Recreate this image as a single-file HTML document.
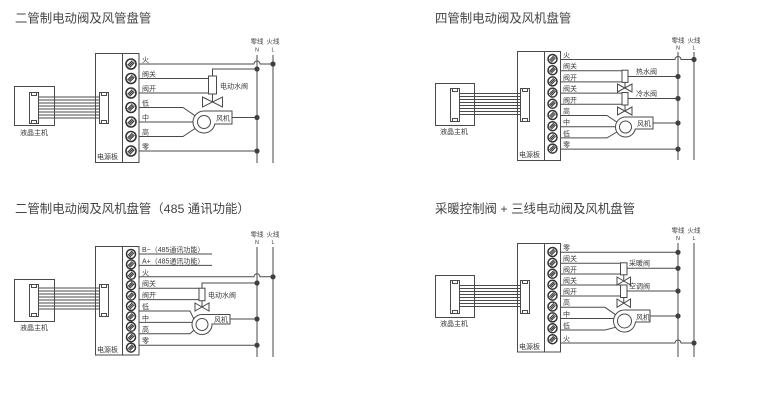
<!DOCTYPE html>
<html>
<head>
<meta charset="utf-8">
<style>
html,body{margin:0;padding:0;background:#fff;}
svg{display:block;}
.w{stroke:#4a4a4a;stroke-width:1;fill:none;}
.t{font-family:"Liberation Sans","Noto Sans CJK SC",sans-serif;fill:#3a3a3a;}
.title{font-family:"Liberation Sans","Noto Sans CJK SC",sans-serif;fill:#444;font-size:12.4px;}
.s7{font-size:7px;}
.s6{font-size:6.5px;}
.s5{font-size:5.5px;}
</style>
</head>
<body>
<svg width="771" height="408" viewBox="0 0 771 408" xmlns="http://www.w3.org/2000/svg">
<defs>
<g id="scr"><circle r="4.5" fill="#fff" stroke="#333" stroke-width="1.5"/><path d="M-3.1 1.2 L1.2 -3.1 M-2.2 2.2 L2.2 -2.2 M-1.2 3.1 L3.1 -1.2" stroke="#333" stroke-width="1"/></g>
<g id="scrb"><circle r="5" fill="#fff" stroke="#333" stroke-width="1.6"/><path d="M-3.4 1.3 L1.3 -3.4 M-2.4 2.4 L2.4 -2.4 M-1.3 3.4 L3.4 -1.3" stroke="#333" stroke-width="1.1"/></g>
<circle id="dot" r="2.6" fill="#404040"/>
</defs>

<!-- ============ Diagram 1 ============ -->
<text class="title" x="15" y="22.5">二管制电动阀及风管盘管</text>
<text class="t s6" x="257" y="43.5" text-anchor="middle">零线</text>
<text class="t s6" x="273" y="43.5" text-anchor="middle">火线</text>
<text class="t s5" x="257" y="51.5" text-anchor="middle">N</text>
<text class="t s5" x="273" y="51.5" text-anchor="middle">L</text>
<path class="w" d="M257 55 V163 M273 55 V163"/>
<rect class="w" x="14.5" y="86.5" width="40" height="39"/>
<rect class="w" x="29.5" y="92.5" width="9" height="31"/>
<rect class="w" x="31.5" y="92.5" width="5" height="3"/>
<rect class="w" x="31.5" y="120.5" width="5" height="3"/>
<path class="w" stroke-width="0.8" d="M38.5 97 H99.5 M38.5 100 H99.5 M38.5 103 H99.5 M38.5 106 H99.5 M38.5 109 H99.5 M38.5 112 H99.5 M38.5 115 H99.5 M38.5 118 H99.5"/>
<text class="t s7" x="20" y="135">液晶主机</text>
<rect class="w" x="95.5" y="53.5" width="43.5" height="109"/>
<path class="w" d="M122.5 53.5 V162.5"/>
<rect class="w" x="99.5" y="92.5" width="9" height="31"/>
<rect class="w" x="101.5" y="92.5" width="5" height="3"/>
<rect class="w" x="101.5" y="120.5" width="5" height="3"/>
<text class="t s7" x="97" y="159">电源板</text>
<use href="#scrb" x="131" y="64"/>
<use href="#scrb" x="131" y="78.5"/>
<use href="#scrb" x="131" y="93"/>
<use href="#scrb" x="131" y="107.5"/>
<use href="#scrb" x="131" y="122"/>
<use href="#scrb" x="131" y="136.5"/>
<use href="#scrb" x="131" y="151"/>
<text class="t s7" x="142" y="62">火</text>
<text class="t s7" x="142" y="76.5">阀关</text>
<text class="t s7" x="142" y="91">阀开</text>
<text class="t s7" x="142" y="105.5">低</text>
<text class="t s7" x="142" y="120">中</text>
<text class="t s7" x="142" y="134.5">高</text>
<text class="t s7" x="142" y="149">零</text>
<path class="w" d="M139 64 H254 A3 3 0 0 1 260 64 H273"/>
<use href="#dot" x="273" y="64"/>
<path class="w" d="M257 69 H212.5 V76"/>
<use href="#dot" x="257" y="69"/>
<rect class="w" x="208.5" y="76" width="8" height="18"/>
<path class="w" d="M139 78.5 H208.5 M139 93 H208.5 M212.5 94 V102"/>
<path class="w" d="M202.5 97 L222.5 107 V97 L202.5 107 Z"/>
<text class="t s7" x="220" y="88.5">电动水阀</text>
<path class="w" d="M139 107.5 H183 L195 115.7 M139 122 H193 M139 136.5 H183 L195 128.5"/>
<path class="w" d="M204 111 H232 V124 H214.8 A11 11 0 1 1 204 111 Z"/>
<circle class="w" cx="204" cy="122" r="6.5"/>
<text class="t s7" x="216" y="120.5">风机</text>
<path class="w" d="M232 117.5 H257"/>
<use href="#dot" x="257" y="117.5"/>
<path class="w" d="M139 151 H257"/>
<use href="#dot" x="257" y="151"/>

<!-- ============ Diagram 2 ============ -->
<text class="title" x="435" y="22.5">四管制电动阀及风机盘管</text>
<text class="t s6" x="678" y="42.5" text-anchor="middle">零线</text>
<text class="t s6" x="694" y="42.5" text-anchor="middle">火线</text>
<text class="t s5" x="678" y="49.5" text-anchor="middle">N</text>
<text class="t s5" x="694" y="49.5" text-anchor="middle">L</text>
<path class="w" d="M678 52 V160 M694 52 V160"/>
<rect class="w" x="435.5" y="83.5" width="39" height="42"/>
<rect class="w" x="450.5" y="88.5" width="9" height="33"/>
<rect class="w" x="452.5" y="88.5" width="5" height="3"/>
<rect class="w" x="452.5" y="118.5" width="5" height="3"/>
<path class="w" stroke-width="0.8" d="M459.5 93.5 H520.5 M459.5 96.5 H520.5 M459.5 99.5 H520.5 M459.5 102.5 H520.5 M459.5 105.5 H520.5 M459.5 108.5 H520.5 M459.5 111.5 H520.5 M459.5 114.5 H520.5"/>
<text class="t s7" x="440" y="134">液晶主机</text>
<rect class="w" x="517.5" y="51.5" width="43" height="109"/>
<path class="w" d="M544.5 51.5 V160.5"/>
<rect class="w" x="520.5" y="88.5" width="9" height="33"/>
<rect class="w" x="522.5" y="88.5" width="5" height="3"/>
<rect class="w" x="522.5" y="118.5" width="5" height="3"/>
<text class="t s7" x="519" y="157">电源板</text>
<use href="#scr" x="552.5" y="59"/>
<use href="#scr" x="552.5" y="70.2"/>
<use href="#scr" x="552.5" y="81.4"/>
<use href="#scr" x="552.5" y="92.6"/>
<use href="#scr" x="552.5" y="103.8"/>
<use href="#scr" x="552.5" y="115"/>
<use href="#scr" x="552.5" y="126.2"/>
<use href="#scr" x="552.5" y="137.4"/>
<use href="#scr" x="552.5" y="148.6"/>
<text class="t s7" x="563" y="57.5">火</text>
<text class="t s7" x="563" y="68.7">阀关</text>
<text class="t s7" x="563" y="79.9">阀开</text>
<text class="t s7" x="563" y="91.1">阀关</text>
<text class="t s7" x="563" y="102.3">阀开</text>
<text class="t s7" x="563" y="113.5">高</text>
<text class="t s7" x="563" y="124.7">中</text>
<text class="t s7" x="563" y="135.9">低</text>
<text class="t s7" x="563" y="147.1">零</text>
<path class="w" d="M560.5 59.5 H675 A3 3 0 0 1 681 59.5 H694"/>
<use href="#dot" x="694" y="59.5"/>
<path class="w" d="M560.5 70.7 H622 M560.5 81.9 H622"/>
<rect class="w" x="622" y="70.2" width="6" height="12.2"/>
<path class="w" d="M628 76.5 H678"/>
<use href="#dot" x="678" y="76.5"/>
<text class="t s7" x="636" y="74">热水阀</text>
<path class="w" d="M625 82.4 V88"/>
<path class="w" d="M617.5 84 L632 92 V84 L617.5 92 Z"/>
<path class="w" d="M560.5 93.1 H622 M560.5 104.3 H622"/>
<rect class="w" x="622" y="92.5" width="6" height="12.5"/>
<path class="w" d="M628 98.5 H678"/>
<use href="#dot" x="678" y="98.5"/>
<text class="t s7" x="636" y="96">冷水阀</text>
<path class="w" d="M625 105 V111"/>
<path class="w" d="M617.5 107 L632 115 V107 L617.5 115 Z"/>
<path class="w" d="M560.5 115.5 H607 L616.8 122 M560.5 126.7 H615.5 M560.5 137.9 H607 L616.8 132"/>
<path class="w" d="M625.5 117 H653 V129 H635.3 A10 10 0 1 1 625.5 117 Z"/>
<circle class="w" cx="625.5" cy="127" r="6"/>
<text class="t s7" x="637" y="126">风机</text>
<path class="w" d="M653 123 H678"/>
<use href="#dot" x="678" y="123"/>
<path class="w" d="M560.5 149.1 H678"/>
<use href="#dot" x="678" y="149.1"/>

<!-- ============ Diagram 3 ============ -->
<text class="title" x="15" y="213">二管制电动阀及风机盘管（485 通讯功能）</text>
<text class="t s6" x="257" y="236.5" text-anchor="middle">零线</text>
<text class="t s6" x="273" y="236.5" text-anchor="middle">火线</text>
<text class="t s5" x="257" y="244" text-anchor="middle">N</text>
<text class="t s5" x="273" y="244" text-anchor="middle">L</text>
<path class="w" d="M257 247 V357 M273 247 V357"/>
<rect class="w" x="14.5" y="279.5" width="40" height="42"/>
<rect class="w" x="29.5" y="284.5" width="9" height="32"/>
<rect class="w" x="31.5" y="284.5" width="5" height="3"/>
<rect class="w" x="31.5" y="313.5" width="5" height="3"/>
<path class="w" stroke-width="0.8" d="M38.5 288 H99.5 M38.5 291 H99.5 M38.5 294 H99.5 M38.5 297 H99.5 M38.5 300 H99.5 M38.5 303 H99.5 M38.5 306 H99.5 M38.5 309 H99.5"/>
<text class="t s7" x="20" y="330">液晶主机</text>
<rect class="w" x="95.5" y="246.5" width="43.5" height="108.5"/>
<path class="w" d="M122.5 246.5 V355"/>
<rect class="w" x="99.5" y="284.5" width="9" height="32"/>
<rect class="w" x="101.5" y="284.5" width="5" height="3"/>
<rect class="w" x="101.5" y="313.5" width="5" height="3"/>
<text class="t s7" x="97" y="352">电源板</text>
<use href="#scr" x="131" y="254"/>
<use href="#scr" x="131" y="264.4"/>
<use href="#scr" x="131" y="274.8"/>
<use href="#scr" x="131" y="285.2"/>
<use href="#scr" x="131" y="295.6"/>
<use href="#scr" x="131" y="306"/>
<use href="#scr" x="131" y="316.4"/>
<use href="#scr" x="131" y="326.8"/>
<use href="#scr" x="131" y="337.2"/>
<use href="#scr" x="131" y="347.6"/>
<text class="t s7" x="142" y="252">B−（485通讯功能）</text>
<text class="t s7" x="142" y="263.4">A+（485通讯功能）</text>
<text class="t s7" x="142" y="274.8">火</text>
<text class="t s7" x="142" y="286.2">阀关</text>
<text class="t s7" x="142" y="297.6">阀开</text>
<text class="t s7" x="142" y="309">低</text>
<text class="t s7" x="142" y="320.4">中</text>
<text class="t s7" x="142" y="331.8">高</text>
<text class="t s7" x="142" y="343.2">零</text>
<path class="w" d="M139 254 H212 M139 265.4 H212"/>
<path class="w" d="M139 276.8 H254 A3 3 0 0 1 260 276.8 H273"/>
<use href="#dot" x="273" y="276.8"/>
<path class="w" d="M257 283 H202 V288.2"/>
<use href="#dot" x="257" y="283"/>
<rect class="w" x="199" y="288.2" width="6" height="12.5"/>
<path class="w" d="M139 288.2 H199 M139 299.6 H199 M202 300.7 V307"/>
<path class="w" d="M195 303 L209 311 V303 L195 311 Z"/>
<text class="t s7" x="208" y="297.5">电动水阀</text>
<path class="w" d="M139 311 H190 L193.8 318.8 M139 322.4 H192 M139 333.8 H190 L193.8 330.2"/>
<path class="w" d="M202 314.5 H230 V324 H212 A10 10 0 1 1 202 314.5 Z"/>
<circle class="w" cx="202" cy="324.5" r="6"/>
<text class="t s7" x="214" y="322">风机</text>
<path class="w" d="M230 319 H257"/>
<use href="#dot" x="257" y="319"/>
<path class="w" d="M139 345.2 H257"/>
<use href="#dot" x="257" y="345.2"/>

<!-- ============ Diagram 4 ============ -->
<text class="title" x="435" y="213">采暖控制阀 + 三线电动阀及风机盘管</text>
<text class="t s6" x="678" y="232.5" text-anchor="middle">零线</text>
<text class="t s6" x="694" y="232.5" text-anchor="middle">火线</text>
<text class="t s5" x="678" y="240" text-anchor="middle">N</text>
<text class="t s5" x="694" y="240" text-anchor="middle">L</text>
<path class="w" d="M678 243 V357 M694 243 V357"/>
<rect class="w" x="435.5" y="275.5" width="39" height="42"/>
<rect class="w" x="450.5" y="280.5" width="9" height="33"/>
<rect class="w" x="452.5" y="280.5" width="5" height="3"/>
<rect class="w" x="452.5" y="310.5" width="5" height="3"/>
<path class="w" stroke-width="0.8" d="M459.5 285.5 H520.5 M459.5 288.5 H520.5 M459.5 291.5 H520.5 M459.5 294.5 H520.5 M459.5 297.5 H520.5 M459.5 300.5 H520.5 M459.5 303.5 H520.5 M459.5 306.5 H520.5"/>
<text class="t s7" x="440" y="326">液晶主机</text>
<rect class="w" x="517.5" y="243.5" width="43" height="108.5"/>
<path class="w" d="M544.5 243.5 V352"/>
<rect class="w" x="520.5" y="280.5" width="9" height="33"/>
<rect class="w" x="522.5" y="280.5" width="5" height="3"/>
<rect class="w" x="522.5" y="310.5" width="5" height="3"/>
<text class="t s7" x="519" y="349">电源板</text>
<use href="#scr" x="552.5" y="252"/>
<use href="#scr" x="552.5" y="262.9"/>
<use href="#scr" x="552.5" y="273.8"/>
<use href="#scr" x="552.5" y="284.7"/>
<use href="#scr" x="552.5" y="295.6"/>
<use href="#scr" x="552.5" y="306.5"/>
<use href="#scr" x="552.5" y="317.4"/>
<use href="#scr" x="552.5" y="328.3"/>
<use href="#scr" x="552.5" y="339.2"/>
<text class="t s7" x="563" y="250">零</text>
<text class="t s7" x="563" y="261">阀关</text>
<text class="t s7" x="563" y="271.8">阀开</text>
<text class="t s7" x="563" y="282.8">阀关</text>
<text class="t s7" x="563" y="293.8">阀开</text>
<text class="t s7" x="563" y="305">高</text>
<text class="t s7" x="563" y="316.3">中</text>
<text class="t s7" x="563" y="327.8">低</text>
<text class="t s7" x="563" y="341">火</text>
<path class="w" d="M560.5 252.3 H678"/>
<use href="#dot" x="678" y="252.3"/>
<path class="w" d="M560.5 263.3 H620.5 M560.5 274 H620.5"/>
<rect class="w" x="620.5" y="262.8" width="6.5" height="12"/>
<path class="w" d="M627 268.3 H678"/>
<use href="#dot" x="678" y="268.3"/>
<text class="t s7" x="629" y="265.5">采暖阀</text>
<path class="w" d="M623.75 274.8 V281"/>
<path class="w" d="M617 277 L630.5 285 V277 L617 285 Z"/>
<path class="w" d="M560.5 285 H620.5 M560.5 296 H620.5"/>
<rect class="w" x="620.5" y="285" width="6.5" height="12.5"/>
<path class="w" d="M627 291 H678"/>
<use href="#dot" x="678" y="291"/>
<text class="t s7" x="629" y="288.5">空调阀</text>
<path class="w" d="M623.75 297.5 V303"/>
<path class="w" d="M617 299 L630.5 307.3 V299 L617 307.3 Z"/>
<path class="w" d="M560.5 307.3 H605 L615.5 314.7 M560.5 318.5 H613.5 M560.5 330 H605 L615.5 327.3"/>
<path class="w" d="M624.5 310 H650 V322 H635.45 A11 11 0 1 1 624.5 310 Z"/>
<circle class="w" cx="624.5" cy="321" r="7"/>
<text class="t s7" x="636" y="319.5">风机</text>
<path class="w" d="M650 316 H678"/>
<use href="#dot" x="678" y="316"/>
<path class="w" d="M560.5 343 H675 A3 3 0 0 1 681 343 H694"/>
<use href="#dot" x="694" y="343"/>
</svg>
</body>
</html>
